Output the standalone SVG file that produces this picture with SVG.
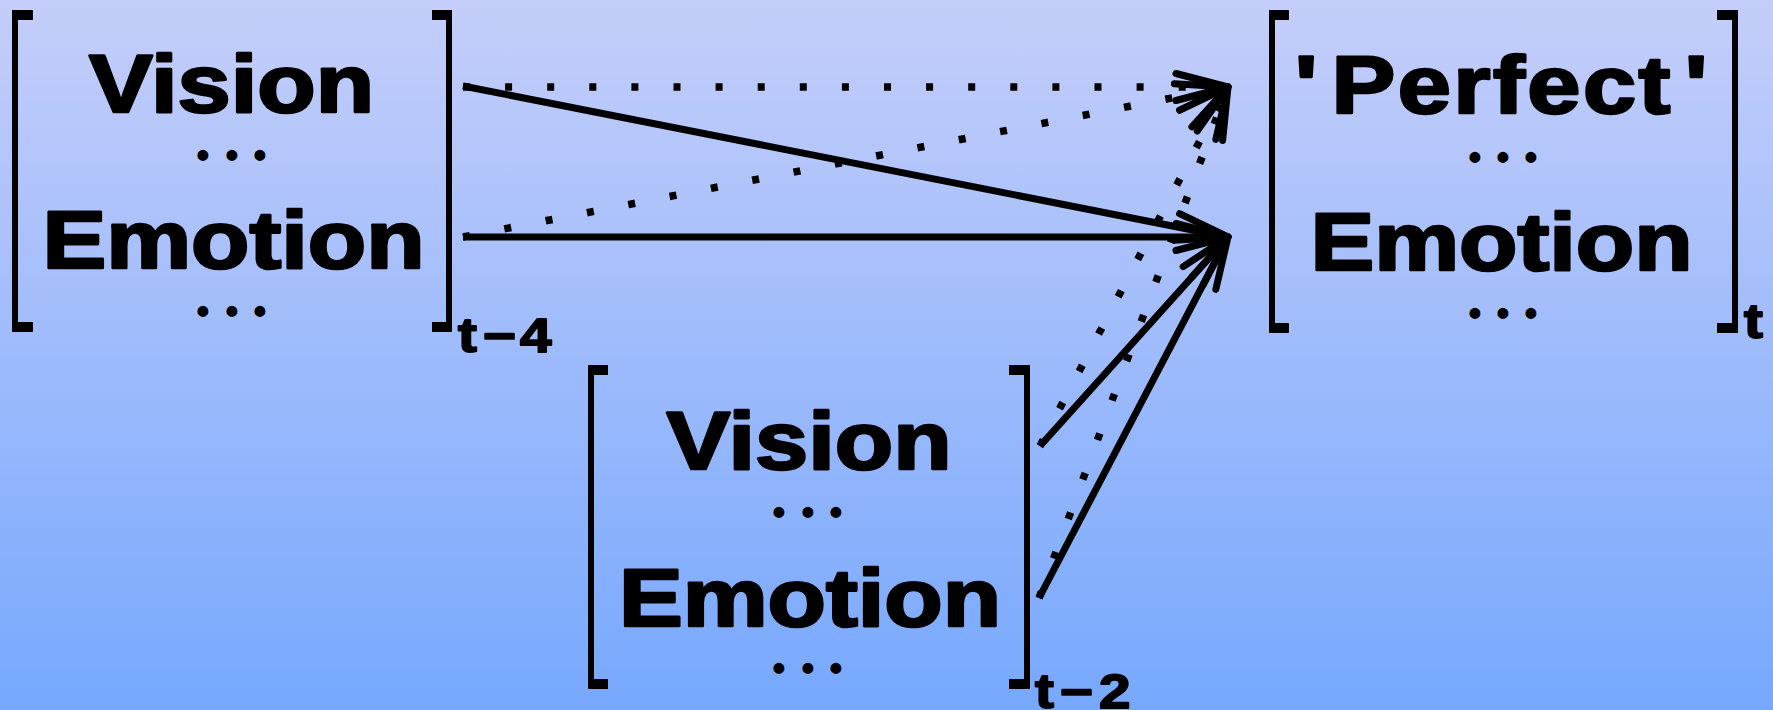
<svg xmlns="http://www.w3.org/2000/svg" width="1773" height="710" viewBox="0 0 1773 710">
<defs>
<linearGradient id="bg" x1="0" y1="0" x2="0" y2="1">
<stop offset="0" stop-color="#c5cefa"/>
<stop offset="1" stop-color="#77a8fd"/>
</linearGradient>
<marker id="ah" markerUnits="userSpaceOnUse" orient="auto" markerWidth="1" markerHeight="1" refX="0" refY="0" style="overflow:visible">
<path d="M-52,-13.5 L0,0 L-52,13.5" fill="none" stroke="#000" stroke-width="7" stroke-linecap="round" stroke-linejoin="round"/>
</marker>
</defs>
<style>
.br{fill:#000}
.lbl{font-family:"Liberation Sans",Arial,sans-serif;font-weight:bold;font-size:81px;fill:#000;stroke:#000;stroke-width:2.6px;stroke-linejoin:round}
.dots{font-family:"Liberation Sans",Arial,sans-serif;font-weight:bold;font-size:38px;fill:#000;text-anchor:middle}
.sub{font-family:"Liberation Sans",Arial,sans-serif;font-weight:bold;font-size:48px;fill:#000;stroke:#000;stroke-width:1.8px;stroke-linejoin:round}
.solid{fill:none;stroke:#000;stroke-width:7;marker-end:url(#ah)}
.dotted{fill:none;stroke:#000;stroke-width:7.5;stroke-dasharray:7 35.1;marker-end:url(#ah)}
</style>
<rect x="0" y="0" width="1773" height="710" fill="url(#bg)"/>

<g id="node-t4">
<path class="br" d="M12 10 H33 V20 H18 V322 H33 V332 H12 Z"/>
<path class="br" d="M452 10 H432 V20 H446 V322 H432 V332 H452 Z"/>
<text class="lbl" text-anchor="middle" transform="translate(231.5,112) scale(1.18,1)">Vision</text>
<text class="dots" x="203 232 260" y="168">•••</text>
<text class="lbl" text-anchor="middle" transform="translate(233.5,268) scale(1.18,1)">Emotion</text>
<text class="dots" x="203 232 260" y="324">•••</text>
<text class="sub" transform="scale(1.18,1)"><tspan x="388.1" y="352">t</tspan><tspan x="409.3" y="352">−</tspan><tspan x="440.7" y="352">4</tspan></text>
</g>

<g id="node-t2">
<path class="br" d="M588 365 H608 V375 H594 V679 H608 V689 H588 Z"/>
<path class="br" d="M1030 365 H1009 V375 H1024 V679 H1009 V689 H1030 Z"/>
<text class="lbl" text-anchor="middle" transform="translate(809,469) scale(1.18,1)">Vision</text>
<text class="dots" x="779 808 836" y="525">•••</text>
<text class="lbl" text-anchor="middle" transform="translate(810,626) scale(1.18,1)">Emotion</text>
<text class="dots" x="779 808 836" y="681">•••</text>
<text class="sub" transform="scale(1.18,1)"><tspan x="877.1" y="708">t</tspan><tspan x="898.3" y="708">−</tspan><tspan x="931.4" y="708">2</tspan></text>
</g>

<g id="node-t">
<path class="br" d="M1269 10 H1289 V20 H1275 V323 H1289 V333 H1269 Z"/>
<path class="br" d="M1738 10 H1717 V20 H1732 V323 H1717 V333 H1738 Z"/>
<text class="lbl" transform="scale(1.18,1)" y="113"><tspan x="1097.3">'</tspan><tspan x="1128.4" letter-spacing="2.1">Perfect</tspan><tspan x="1427.8">'</tspan></text>
<text class="dots" x="1475 1503 1531" y="170">•••</text>
<text class="lbl" text-anchor="middle" transform="translate(1501.5,270) scale(1.18,1)">Emotion</text>
<text class="dots" x="1475 1503 1531" y="326">•••</text>
<text class="sub" transform="scale(1.18,1)" x="1477.9" y="338">t</text>
</g>

<g id="connectors">
<line class="dotted" x1="463" y1="87" x2="1228" y2="87"/>
<line class="dotted" x1="463" y1="237" x2="1228" y2="87"/>
<line class="dotted" x1="1040" y1="446" x2="1228" y2="87"/>
<line class="dotted" x1="1039" y1="598" x2="1228" y2="87"/>
<line class="solid" x1="463" y1="86" x2="1228" y2="237"/>
<line class="solid" x1="463" y1="237" x2="1228" y2="237"/>
<line class="solid" x1="1040" y1="446" x2="1228" y2="237"/>
<line class="solid" x1="1039" y1="598" x2="1228" y2="237"/>
</g>
</svg>
